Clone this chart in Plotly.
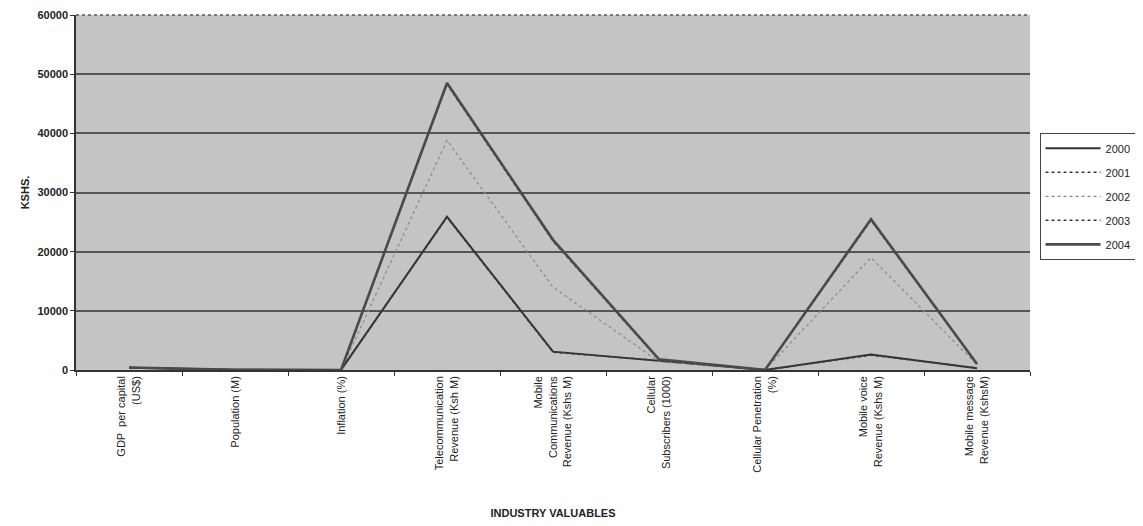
import plotly.graph_objects as go

categories = [
    "GDP  per capital<br>(US$)",
    "Population (M)",
    "Inflation (%)",
    "Telecommunication<br>Revenue (Ksh M)",
    "Mobile<br>Communications<br>Revenue (Kshs M)",
    "Cellular<br>Subscribers (1000)",
    "Cellular Penetration<br>(%)",
    "Mobile voice<br>Revenue (Kshs M)",
    "Mobile message<br>Revenue (KshsM)",
]

y2000 = [400, 30, 10, 25900, 3100, 1500, 5, 2600, 300]
y2001 = [390, 31, 8, 25800, 3000, 1600, 8, 2500, 350]
y2002 = [410, 31, 2, 38800, 14000, 1400, 10, 19000, 900]
y2003 = [420, 32, 10, 48300, 21800, 1700, 12, 25300, 1000]
y2004 = [430, 33, 12, 48500, 22000, 1800, 15, 25500, 1000]

y_ticks = [0, 10000, 20000, 30000, 40000, 50000, 60000]

series = [
    ("2000", y2000, dict(color="#333333", width=2, dash="solid")),
    ("2001", y2001, dict(color="#3a3a3a", width=1.5, dash="dot")),
    ("2002", y2002, dict(color="#8a8a8a", width=1.2, dash="dot")),
    ("2003", y2003, dict(color="#3a3a3a", width=1.5, dash="dot")),
    ("2004", y2004, dict(color="#4a4a4a", width=2.6, dash="solid")),
]

fig = go.Figure()
for name, vals, line in series:
    fig.add_trace(go.Scatter(x=categories, y=vals, name=name, mode="lines",
                             line=line, legendgroup=name))

fig.update_layout(
    width=1135, height=518,
    margin=dict(l=68, r=113, t=7, b=156, autoexpand=False),
    paper_bgcolor="white",
    plot_bgcolor="#c4c4c4",
    font=dict(family="Liberation Sans, Arial", size=11, color="#222"),
    showlegend=True,
    legend=dict(
        x=1.01, y=0.668, xanchor="left", yanchor="top",
        bgcolor="white", bordercolor="#444", borderwidth=1,
        font=dict(size=11, color="#222"),
        itemwidth=55, tracegroupgap=5,
    ),
)

fig.update_xaxes(
    type="category", range=[-0.5, 8.5], automargin=False,
    tickangle=-90, tickfont=dict(size=11, color="#222"),
    ticks="outside", ticklen=4, tickcolor="#333", tickson="boundaries",
    showgrid=False, showline=True, linecolor="#333", linewidth=1.5,
    mirror=False,
    title=dict(text="<b>INDUSTRY VALUABLES</b>", font=dict(size=11, color="#222"), standoff=38),
)

fig.update_yaxes(
    range=[0, 60000], tickvals=y_ticks, automargin=False,
    ticktext=[f"<b>{v}</b>" for v in y_ticks],
    tickfont=dict(size=11, color="#222"),
    ticks="outside", ticklen=4, tickcolor="#333",
    showgrid=True, gridcolor="#555555", gridwidth=1.5,
    showline=True, linecolor="#333", linewidth=1.5,
    zeroline=False,
    title=dict(text="<b>KSHS.</b>", font=dict(size=11, color="#222"), standoff=6),
)

# dotted top border of plot area
fig.add_shape(type="line", xref="paper", yref="paper", x0=0, x1=1, y0=1, y1=1,
              line=dict(color="#555", width=1.5, dash="dot"))

fig.write_html("out.html")
